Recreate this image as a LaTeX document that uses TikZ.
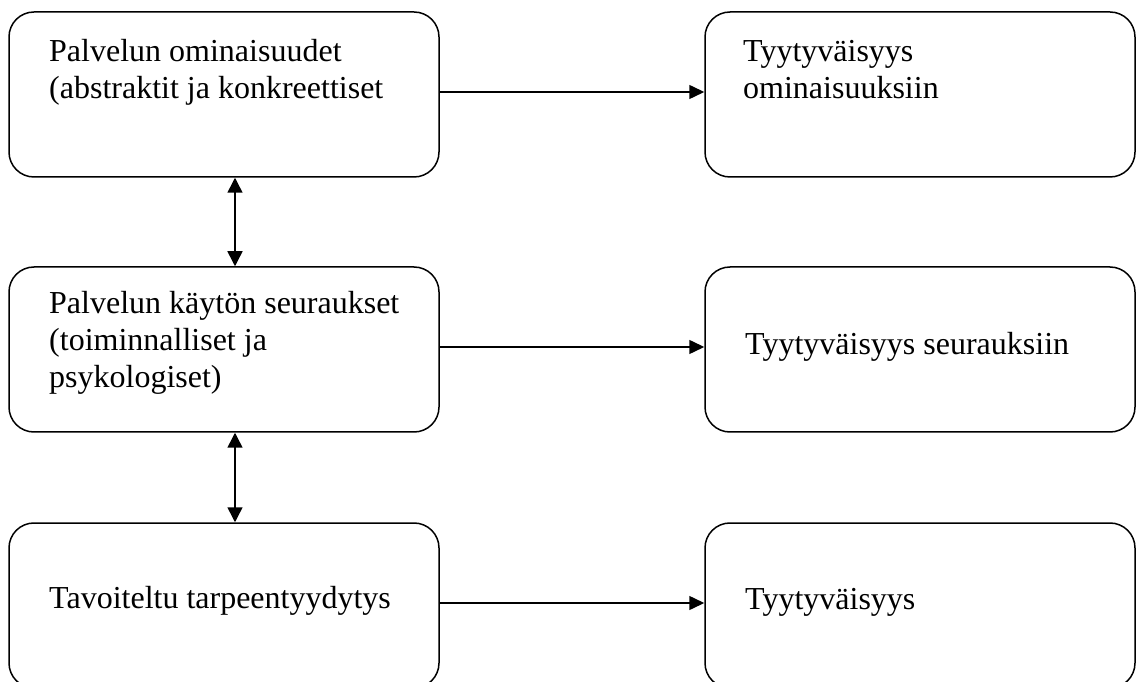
\documentclass[tikz,border=0pt]{standalone}
\usepackage{fontspec}
\setmainfont{Liberation Serif}
\usetikzlibrary{arrows.meta}
\begin{document}
\begin{tikzpicture}[x=1pt,y=1pt,
  box/.style={draw, line width=1.5pt, rounded corners=25pt, minimum width=430pt, minimum height=165pt, inner sep=0pt},
  txt/.style={anchor=base west, align=left, inner sep=0pt, font=\fontsize{32}{37}\selectfont},
  arr/.style={line width=1.5pt, -{Triangle[length=15pt,width=14pt]}},
  darr/.style={line width=1.5pt, {Triangle[length=15pt,width=15pt]}-{Triangle[length=15pt,width=15pt]}}]
\useasboundingbox (0,0) rectangle (1136,681);
\node[box] (A) at (224,586.5) {};
\node[box] (B) at (224,331.5) {};
\node[box] (C) at (224,75.5) {};
\node[box] (D) at (920,586.5) {};
\node[box] (E) at (920,331.5) {};
\node[box] (F) at (920,75.5) {};
\node[txt] (tA) at (49,582) {Palvelun ominaisuudet\\(abstraktit ja konkreettiset};
\node[txt] (tB) at (49,293) {Palvelun käytön seuraukset\\(toiminnalliset ja\\psykologiset)};
\node[txt] (tC) at (49,73) {Tavoiteltu tarpeentyydytys};
\node[txt] (tD) at (743,582) {Tyytyväisyys\\ominaisuuksiin};
\node[txt] (tE) at (745,326) {Tyytyväisyys seurauksiin};
\node[txt] (tF) at (745,72) {Tyytyväisyys};
\draw[arr] ([yshift=2.5pt]A.east) -- ([yshift=2.5pt]D.west);
\draw[arr] ([yshift=2.5pt]B.east) -- ([yshift=2.5pt]E.west);
\draw[arr] ([yshift=2.5pt]C.east) -- ([yshift=2.5pt]F.west);
\draw[darr] ([xshift=11pt]A.south) -- ([xshift=11pt]B.north);
\draw[darr] ([xshift=11pt]B.south) -- ([xshift=11pt]C.north);
\end{tikzpicture}
\end{document}
